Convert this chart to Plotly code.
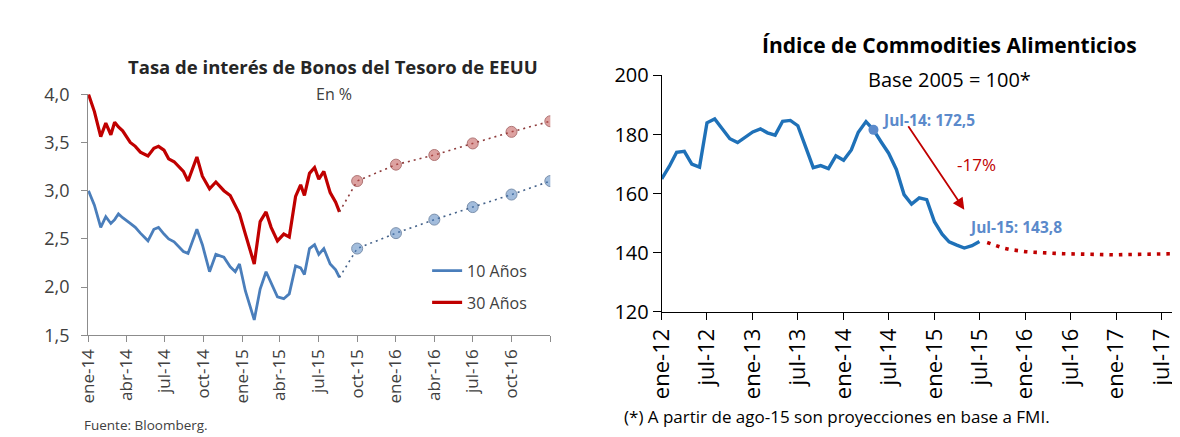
import plotly.graph_objects as go

W, H = 1180, 437

# ---------------- Left chart data (US Treasury yields, %) ----------------
bond_dates = [
    "2014-01-02", "2014-01-16", "2014-01-31", "2014-02-12", "2014-02-24", "2014-03-05",
    "2014-03-14", "2014-03-24", "2014-04-11", "2014-04-23", "2014-05-05", "2014-05-23",
    "2014-06-06", "2014-06-17", "2014-06-30", "2014-07-11", "2014-07-24", "2014-08-05",
    "2014-08-15", "2014-08-26", "2014-09-16", "2014-09-29", "2014-10-16", "2014-10-31",
    "2014-11-19", "2014-12-04", "2014-12-16", "2014-12-26", "2015-01-09", "2015-01-30",
    "2015-02-13", "2015-02-27", "2015-03-11", "2015-03-26", "2015-04-10", "2015-04-23",
    "2015-05-08", "2015-05-20", "2015-05-29", "2015-06-10", "2015-06-22", "2015-07-02",
    "2015-07-14", "2015-07-29", "2015-08-11", "2015-08-20",
]
y30 = [
    4.00, 3.82, 3.56, 3.70, 3.58, 3.71, 3.66, 3.62, 3.50, 3.46, 3.40, 3.36,
    3.44, 3.46, 3.42, 3.33, 3.30, 3.24, 3.20, 3.10, 3.35, 3.15, 3.02, 3.09,
    3.00, 2.95, 2.85, 2.76, 2.55, 2.24, 2.68, 2.78, 2.62, 2.48, 2.55, 2.52,
    2.94, 3.06, 2.95, 3.18, 3.24, 3.12, 3.20, 2.98, 2.88, 2.78,
]
y10 = [
    3.00, 2.85, 2.62, 2.73, 2.66, 2.70, 2.76, 2.72, 2.66, 2.62, 2.56, 2.48,
    2.60, 2.62, 2.55, 2.50, 2.47, 2.42, 2.37, 2.35, 2.60, 2.44, 2.16, 2.34,
    2.31, 2.21, 2.16, 2.24, 1.96, 1.66, 1.98, 2.16, 2.04, 1.90, 1.88, 1.93,
    2.22, 2.20, 2.13, 2.40, 2.44, 2.34, 2.40, 2.24, 2.18, 2.10,
]
proj_dates = ["2015-10-01", "2016-01-01", "2016-04-01", "2016-07-01", "2016-10-01", "2017-01-01"]
proj30 = [3.10, 3.27, 3.37, 3.49, 3.61, 3.72]
proj10 = [2.40, 2.56, 2.70, 2.83, 2.96, 3.10]

left_tickvals = ["2014-01-01", "2014-04-01", "2014-07-01", "2014-10-01", "2015-01-01",
                 "2015-04-01", "2015-07-01", "2015-10-01", "2016-01-01", "2016-04-01",
                 "2016-07-01", "2016-10-01", "2017-01-01"]
left_ticktext = ["ene-14", "abr-14", "jul-14", "oct-14", "ene-15", "abr-15", "jul-15",
                 "oct-15", "ene-16", "abr-16", "jul-16", "oct-16", ""]
left_yvals = [1.5, 2.0, 2.5, 3.0, 3.5, 4.0]
left_ytext = ["1,5", "2,0", "2,5", "3,0", "3,5", "4,0"]

# ---------------- Right chart data (food commodity index) ----------------
food_months = [f"{y}-{m:02d}-01" for y in range(2012, 2016) for m in range(1, 13)][:43]
food_vals = [
    165.0, 169.3, 174.0, 174.3, 170.0, 169.0, 184.0, 185.3, 181.9, 178.6, 177.3, 179.1,
    180.9, 181.9, 180.6, 179.8, 184.5, 184.8, 183.0, 175.9, 168.8, 169.5, 168.5, 172.8,
    171.3, 174.8, 180.8, 184.4, 181.6, 177.5, 173.7, 168.2, 159.7, 156.5, 158.6, 158.0,
    150.5, 146.3, 143.7, 142.6, 141.6, 142.4, 143.8,
]
proj_months = [f"{y}-{m:02d}-01" for y in range(2015, 2018) for m in range(1, 13)][7:]
proj_food = [
    143.5, 142.5, 141.7, 141.1, 140.7, 140.4, 140.2, 140.0, 139.9, 139.8, 139.7, 139.6,
    139.5, 139.4, 139.4, 139.3, 139.3, 139.3, 139.4, 139.4, 139.5, 139.5, 139.6, 139.6,
    139.7, 139.7, 139.8, 139.8, 139.9,
]
marked_idx = 28
right_tickvals = [f"{y}-{m:02d}-01" for y in range(2012, 2018) for m in (1, 7)]
right_ticktext = [f"{'ene' if m == 1 else 'jul'}-{str(y)[2:]}" for y in range(2012, 2018) for m in (1, 7)]

# ---------------- helpers: pixel -> paper ----------------
def px(x):
    return x / W

def py(y):
    return 1 - y / H

RED = "#C00000"
BLUE_L = "#4A7EBB"
BLUE_R = "#1F71B8"
FONT = "Open Sans"

fig = go.Figure()

# Left chart
fig.add_trace(go.Scatter(x=bond_dates, y=y10, mode="lines", name="10 Años",
                         line=dict(color=BLUE_L, width=2.8), xaxis="x", yaxis="y",
                         legend="legend"))
fig.add_trace(go.Scatter(x=bond_dates, y=y30, mode="lines", name="30 Años",
                         line=dict(color=RED, width=3.2), xaxis="x", yaxis="y",
                         legend="legend2"))
fig.add_trace(go.Scatter(x=[bond_dates[-1]] + proj_dates, y=[y30[-1]] + proj30,
                         mode="lines+markers", showlegend=False,
                         line=dict(color="#8E3B3B", width=1.6, dash="2px,4px"),
                         marker=dict(size=[0] + [11] * len(proj30), color="rgba(192,80,77,0.75)"),
                         xaxis="x", yaxis="y"))
fig.add_trace(go.Scatter(x=[bond_dates[-1]] + proj_dates, y=[y10[-1]] + proj10,
                         mode="lines+markers", showlegend=False,
                         line=dict(color="#44628A", width=1.6, dash="2px,4px"),
                         marker=dict(size=[0] + [11] * len(proj10), color="rgba(79,129,189,0.75)"),
                         xaxis="x", yaxis="y"))

# Right chart
fig.add_trace(go.Scatter(x=food_months, y=food_vals, mode="lines", showlegend=False,
                         line=dict(color=BLUE_R, width=3.4), xaxis="x2", yaxis="y2"))
fig.add_trace(go.Scatter(x=proj_months, y=proj_food, mode="lines", showlegend=False,
                         line=dict(color=RED, width=3.6, dash="3.5px,6px"),
                         xaxis="x2", yaxis="y2"))
fig.add_trace(go.Scatter(x=[food_months[marked_idx]], y=[food_vals[marked_idx]], mode="markers",
                         showlegend=False, marker=dict(size=10, color="#5B8ACB"),
                         xaxis="x2", yaxis="y2"))

axis_common = dict(showgrid=False, zeroline=False, showline=True, ticks="outside")

fig.update_layout(
    width=W, height=H,
    margin=dict(l=0, r=0, t=0, b=0),
    paper_bgcolor="white", plot_bgcolor="white",
    font=dict(family=FONT, color="#404040"),
    xaxis=dict(**axis_common, type="date", domain=[px(64), px(533)],
               range=["2014-01-01", "2017-01-01"], tickvals=left_tickvals,
               ticktext=left_ticktext, tickangle=-90, linecolor="#8C8C8C", tickcolor="#8C8C8C",
               ticklen=6, tickfont=dict(size=17, color="#404040"), anchor="y"),
    yaxis=dict(**axis_common, domain=[py(334), py(77)], range=[1.5, 4.0],
               tickvals=left_yvals, ticktext=left_ytext, linecolor="#8C8C8C",
               tickcolor="#8C8C8C", ticklen=6, ticklabelstandoff=8,
               tickfont=dict(size=18, color="#404040"), anchor="x"),
    xaxis2=dict(**axis_common, type="date", domain=[px(646), 1.0],
                range=["2012-01-01", "2017-10-16"], tickvals=right_tickvals,
                ticktext=right_ticktext, tickangle=-90, linecolor="#000000",
                tickcolor="#000000", ticklen=7, tickfont=dict(size=22, color="#000000"),
                anchor="y2"),
    yaxis2=dict(**axis_common, domain=[py(309), py(57)], range=[120, 200], dtick=20,
                linecolor="#000000", tickcolor="#000000", ticklen=8,
                tickfont=dict(size=20, color="#000000"), anchor="x2"),
    legend=dict(x=px(408), y=py(265), xanchor="left", yanchor="middle",
                bgcolor="rgba(0,0,0,0)", font=dict(size=16, color="#404040")),
    legend2=dict(x=px(408), y=py(299), xanchor="left", yanchor="middle",
                 bgcolor="rgba(0,0,0,0)", font=dict(size=16, color="#404040")),
)

ann = [
    dict(text="<b>Tasa de interés de Bonos del Tesoro de EEUU</b>", x=px(313), y=py(47),
         font=dict(size=18.5, color="#262626")),
    dict(text="En %", x=px(314), y=py(77), font=dict(size=16, color="#404040")),
    dict(text="Fuente: Bloomberg.", x=px(58), y=py(430), xanchor="left",
         font=dict(size=13.5, color="#404040")),
    dict(text="<b>Índice de Commodities Alimenticios</b>", x=px(938), y=py(25),
         font=dict(size=21, color="#000000")),
    dict(text="Base 2005 = 100*", x=px(938), y=py(61), font=dict(size=20, color="#000000")),
    dict(text="<b>Jul-14: 172,5</b>", x=px(867), y=py(104), xanchor="left",
         font=dict(size=15.5, color="#5B8ACB")),
    dict(text="<b>Jul-15: 143,8</b>", x=px(956), y=py(218), xanchor="left",
         font=dict(size=15.5, color="#5B8ACB")),
    dict(text="-17%", x=px(965), y=py(152), font=dict(size=17, color=RED)),
    dict(text="(*) A partir de ago-15 son proyecciones en base a FMI.", x=px(606), y=py(420),
         xanchor="left", font=dict(size=17, color="#000000")),
]
annotations = []
for a in ann:
    base = dict(xref="paper", yref="paper", showarrow=False, xanchor="center", yanchor="middle")
    base.update(a)
    annotations.append(base)
annotations.append(dict(xref="paper", yref="paper", axref="pixel", ayref="pixel",
                        x=px(953), y=py(200), ax=896 - 953, ay=115 - 200,
                        showarrow=True, arrowhead=2, arrowsize=1.3, arrowwidth=1.8,
                        arrowcolor=RED, text=""))
fig.update_layout(annotations=annotations)

fig.write_html("out.html")
